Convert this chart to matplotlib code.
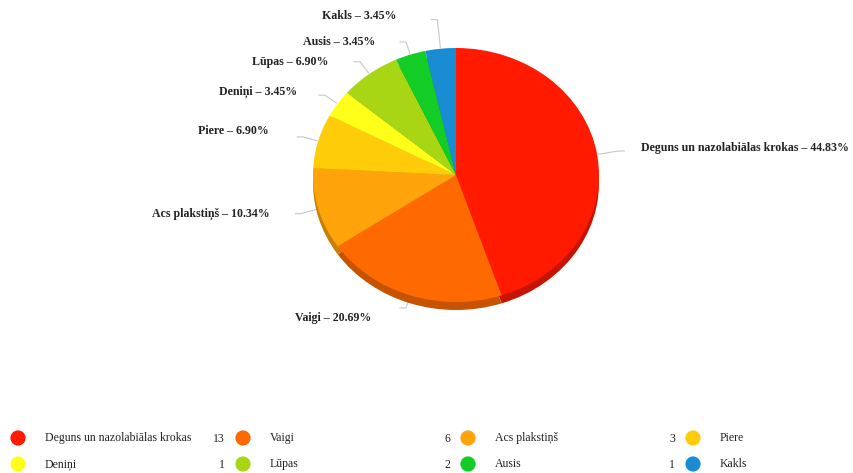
import numpy as np
import matplotlib.pyplot as plt
from matplotlib.colors import to_rgb

# body areas and number of cases
areas = ["Deguns un nazolabiālas krokas", "Vaigi", "Acs plakstiņš", "Piere",
         "Deniņi", "Lūpas", "Ausis", "Kakls"]
counts = [13, 6, 3, 2, 1, 2, 1, 1]
colors = ["#FF1A00", "#FF6A00", "#FFA30A", "#FFCC0A",
          "#FFFF1A", "#A8D614", "#14CC26", "#1A8CD4"]

# label text anchors (pixels) and how far the leader runs out from the rim
label_xy = [(641, 148), (371, 318), (270, 214), (269, 131),
            (297, 92), (328, 62), (375, 42), (396, 16)]
label_ha = ["left", "right", "right", "right", "right", "right", "right", "right"]
leader_len = [20, 12, 16, 14, 14, 14, 12, 28]

W, H = 854, 473
fig = plt.figure(figsize=(W / 100, H / 100), dpi=100)
fig.patch.set_facecolor("white")

serif = ["Liberation Serif", "DejaVu Serif"]

# overlay in pixel coordinates for labels and legend
ov = fig.add_axes([0, 0, 1, 1])
ov.set_xlim(0, W)
ov.set_ylim(H, 0)
ov.axis("off")

# pie axes, squashed slightly to an ellipse
px0, py0, pw, ph = 313, 48, 286, 254
ax = fig.add_axes([px0 / W, 1 - (py0 + ph) / H, pw / W, ph / H])

dark = [tuple(c * 0.78 for c in to_rgb(col)) for col in colors]
depth = 8 / (ph / 2)
sw, _ = ax.pie(counts, colors=dark, startangle=90, counterclock=False,
               radius=1, center=(0, -depth), frame=True,
               wedgeprops=dict(linewidth=0))
tw, _ = ax.pie(counts, colors=colors, startangle=90, counterclock=False,
               radius=1, center=(0, 0), frame=True,
               wedgeprops=dict(linewidth=0))
ax.set_aspect("auto")
ax.set_xlim(-1, 1)
ax.set_ylim(-1, 1)
ax.axis("off")
for w in sw + tw:
    w.set_clip_on(False)

fig.canvas.draw()
to_px = ax.transData + ov.transData.inverted()

total = sum(counts)
pct = [c / total * 100 for c in counts]
cum = np.cumsum([0] + counts)
for i, name in enumerate(areas):
    mid = (cum[i] + cum[i + 1]) / 2 / total * 2 * np.pi
    ex, ey = to_px.transform((np.sin(mid) * 1.01, np.cos(mid) * 1.01))
    ux, uy = np.sin(mid), -np.cos(mid)
    n = np.hypot(ux, uy)
    bx, by = ex + ux / n * leader_len[i], ey + uy / n * leader_len[i]
    tx = bx + (6 if label_ha[i] == "left" else -6)
    ov.plot([ex, bx, tx], [ey, by, by], color="#c8c8c8", lw=0.8)
    lx, ly = label_xy[i]
    ov.text(lx, ly, f"{name} – {pct[i]:.2f}%", ha=label_ha[i], va="center",
            fontsize=8.6, fontweight="bold", family=serif, color="#222222")

# legend: four columns, two rows, count sits after each name
col_x = [18, 243, 468, 693]
row_y = [438, 464]
for i, name in enumerate(areas):
    r, c = divmod(i, 4)
    x, y = col_x[c], row_y[r]
    ov.scatter([x], [y], s=120, color=colors[i], edgecolor="none")
    ov.text(x + 27, y, name, ha="left", va="center", fontsize=8.5,
            family=serif, color="#222222")
    if x + 207 < W:
        ov.text(x + 207, y + 1, str(counts[i]), ha="right", va="center",
                fontsize=8.5, family=serif, color="#222222")

fig.savefig("out.png", dpi=100, facecolor="white")
